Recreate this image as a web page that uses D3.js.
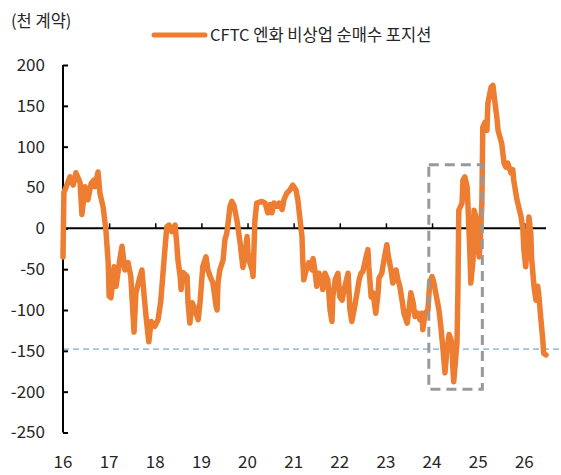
<!DOCTYPE html>
<html><head><meta charset="utf-8">
<script src="https://cdn.jsdelivr.net/npm/d3@7"></script>
<style>
html,body{margin:0;padding:0;background:#fff;}
text{font-family:"Noto Sans CJK KR","Noto Sans",sans-serif;fill:#262626;}
</style></head>
<body><svg id="c" width="561" height="475"></svg>
<script>
// decimal year (yy) of each observation
const years = [16.00,16.02,16.07,16.15,16.22,16.28,16.37,16.41,16.48,16.54,16.61,16.67,16.69,16.76,16.80,16.87,16.93,16.98,17.00,17.04,17.11,17.15,17.24,17.28,17.34,17.41,17.47,17.54,17.58,17.67,17.71,17.76,17.80,17.86,17.91,17.99,18.06,18.12,18.19,18.25,18.30,18.36,18.43,18.47,18.49,18.54,18.56,18.60,18.69,18.71,18.75,18.80,18.86,18.93,18.97,19.03,19.10,19.14,19.19,19.25,19.32,19.34,19.36,19.40,19.47,19.51,19.55,19.58,19.62,19.66,19.71,19.77,19.79,19.84,19.88,19.90,19.94,19.99,20.01,20.05,20.10,20.12,20.16,20.20,20.31,20.38,20.44,20.49,20.53,20.57,20.64,20.68,20.75,20.79,20.85,20.92,20.98,21.05,21.09,21.14,21.18,21.20,21.22,21.29,21.33,21.40,21.42,21.46,21.50,21.55,21.61,21.63,21.68,21.74,21.79,21.83,21.85,21.90,21.96,22.00,22.05,22.11,22.18,22.22,22.26,22.31,22.37,22.42,22.46,22.50,22.57,22.61,22.63,22.68,22.72,22.78,22.83,22.85,22.91,22.96,23.02,23.04,23.11,23.15,23.22,23.26,23.30,23.35,23.39,23.46,23.50,23.54,23.59,23.63,23.69,23.74,23.78,23.80,23.85,23.91,23.95,24.00,24.04,24.11,24.15,24.19,24.24,24.28,24.32,24.37,24.43,24.45,24.47,24.54,24.56,24.58,24.65,24.67,24.71,24.76,24.78,24.82,24.84,24.89,24.91,24.95,24.97,25.02,25.04,25.08,25.10,25.15,25.19,25.21,25.28,25.32,25.34,25.41,25.43,25.47,25.51,25.56,25.60,25.64,25.71,25.75,25.77,25.84,25.88,25.93,25.97,25.99,26.03,26.08,26.10,26.14,26.16,26.21,26.25,26.29,26.31,26.36,26.40,26.42,26.47];
// CFTC yen non-commercial net long position (thousand contracts)
const netPosition = [-35,44,51,63,53,68,56,17,51,35,55,59,51,69,43,26,-2,-42,-83,-85,-47,-71,-35,-22,-51,-42,-59,-127,-79,-59,-51,-83,-108,-139,-114,-120,-112,-89,-39,2,4,-4,4,-22,-38,-59,-75,-54,-59,-91,-116,-91,-99,-112,-91,-47,-35,-51,-59,-67,-96,-100,-67,-51,-39,-14,-6,7,27,33,27,10,2,-18,-38,-48,-35,-10,-30,-42,-51,-59,10,31,33,31,19,29,19,31,27,31,23,35,43,47,53,47,35,10,-10,-42,-63,-47,-42,-51,-37,-51,-71,-55,-63,-75,-55,-63,-100,-114,-84,-63,-55,-84,-88,-71,-55,-100,-114,-100,-80,-63,-55,-53,-35,-26,-47,-84,-79,-104,-79,-61,-55,-38,-20,-30,-51,-67,-51,-63,-71,-88,-104,-116,-100,-79,-91,-108,-104,-112,-104,-124,-104,-100,-66,-59,-67,-88,-100,-120,-150,-177,-150,-130,-140,-170,-188,-140,-79,22,31,59,63,51,26,-30,-67,-38,22,14,-6,-35,-22,31,124,130,120,153,173,175,165,133,120,112,104,80,75,80,68,72,59,35,26,14,-2,-26,-47,-10,14,-6,-38,-71,-88,-71,-79,-112,-136,-153,-155];
const xTicks = [16,17,18,19,20,21,22,23,24,25,26];
const yTicks = [200,150,100,50,0,-50,-100,-150,-200,-250];
const refLevel = -148;
const boxYears = [23.93, 25.09];
const boxValues = [-197, 78];
const seriesName = "CFTC 엔화 비상업 순매수 포지션";
const unitLabel = "(천 계약)";

const svg = d3.select("#c");
const x = d3.scaleLinear().domain([16, 26.47]).range([63, 546]);
const y = d3.scaleLinear().domain([-250, 200]).range([432.5, 65]);

// reference dashed line
svg.append("line").attr("x1", 63).attr("x2", 561)
  .attr("y1", y(refLevel)).attr("y2", y(refLevel))
  .attr("stroke", "#7fa6cf").attr("stroke-width", 1.3).attr("stroke-dasharray", "6,4");

// y axis
const yAxis = d3.axisRight(y).tickValues(yTicks).tickSize(5).tickFormat("");
const ya = svg.append("g").attr("transform", "translate(63,0)").call(yAxis);
ya.select(".domain").attr("stroke", "#000").attr("stroke-width", 2).attr("d", `M0,${y(200)}V${y(-250)}`);
ya.selectAll(".tick line").attr("stroke", "#000").attr("stroke-width", 2);
yTicks.forEach(v => {
  svg.append("text").attr("x", 45).attr("y", y(v)).attr("dy", "0.35em")
    .attr("text-anchor", "end").attr("font-size", 17).text(v);
});

// x axis along zero
const xAxis = d3.axisTop(x).tickValues(xTicks).tickSize(5).tickFormat("");
const xa = svg.append("g").attr("transform", `translate(0,${y(0)})`).call(xAxis);
xa.select(".domain").attr("stroke", "#000").attr("stroke-width", 2).attr("d", `M${x(16)},0H${x(26.47)}`);
xa.selectAll(".tick line").attr("stroke", "#000").attr("stroke-width", 1.5);
xTicks.forEach(t => {
  svg.append("text").attr("x", x(t)).attr("y", 462).attr("dy", "0.35em")
    .attr("text-anchor", "middle").attr("font-size", 17).text(t);
});

// series line
const data = years.map((t, i) => [t, netPosition[i]]);
svg.append("path").datum(data)
  .attr("fill", "none").attr("stroke", "#ED7D31").attr("stroke-width", 5.5)
  .attr("stroke-linejoin", "round").attr("stroke-linecap", "round")
  .attr("d", d3.line().x(d => x(d[0])).y(d => y(d[1])));

// highlight box
svg.append("rect")
  .attr("x", x(boxYears[0])).attr("y", y(boxValues[1]))
  .attr("width", x(boxYears[1]) - x(boxYears[0]))
  .attr("height", y(boxValues[0]) - y(boxValues[1]))
  .attr("fill", "none").attr("stroke", "#999").attr("stroke-width", 3).attr("stroke-dasharray", "10,6");

// unit label
svg.append("text").attr("x", 11).attr("y", 21).attr("dy", "0.35em").attr("font-size", 16.5).text(unitLabel);

// legend
svg.append("line").attr("x1", 154).attr("x2", 205).attr("y1", 35).attr("y2", 35)
  .attr("stroke", "#ED7D31").attr("stroke-width", 5).attr("stroke-linecap", "round");
svg.append("text").attr("x", 210).attr("y", 35).attr("dy", "0.35em").attr("font-size", 16.5).text(seriesName);
</script></body></html>
